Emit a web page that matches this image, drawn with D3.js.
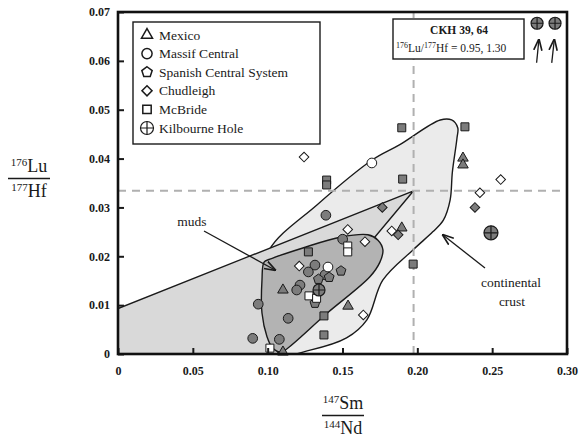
<!DOCTYPE html>
<html>
<head>
<meta charset="utf-8">
<script src="https://cdn.jsdelivr.net/npm/d3@7"></script>
<style>
  body { margin: 0; background: #fff; }
  text { font-family: "Liberation Serif", "DejaVu Serif", serif; fill: #1a1a1a; }
</style>
</head>
<body>
<svg id="chart" width="580" height="438"></svg>
<script>
// axis ticks
const xTicks = [0, 0.05, 0.1, 0.15, 0.2, 0.25, 0.3];
const yTicks = [0, 0.01, 0.02, 0.03, 0.04, 0.05, 0.06, 0.07];

// chondritic reference (dashed lines)
const chur = [0.1975, 0.0334];

// outlined fields
const crustField = [
  [0.1102, 0], [0.1284, 0.0008], [0.1527, 0.0033], [0.1663, 0.007], [0.1769, 0.0151],
  [0.1971, 0.0213], [0.2103, 0.025], [0.2174, 0.0274], [0.2219, 0.0315], [0.2234, 0.0372],
  [0.2265, 0.0442], [0.227, 0.0463], [0.2229, 0.0479], [0.2153, 0.0479], [0.188, 0.0428],
  [0.1698, 0.0397], [0.1329, 0.0305], [0.1011, 0.0213], [0.096, 0.0131], [0.1001, 0.0049]
];
const wedgeField = [[0, 0], [0, 0.0093], chur, [0.1062, 0]];
const mudsField = [
  [0.0976, 0.0188], [0.0962, 0.0151], [0.0962, 0.0084], [0.0996, 0.0035], [0.1029, 0.0014],
  [0.1083, 0.0004], [0.1116, 0.0008], [0.1395, 0.0083], [0.1683, 0.0158], [0.175, 0.0188],
  [0.177, 0.0213], [0.1737, 0.0233], [0.167, 0.0244], [0.1483, 0.0239], [0.1235, 0.0217],
  [0.1015, 0.0194]
];

// samples [147Sm/144Nd, 176Lu/177Hf]
const mexicoFilled = [[0.2305, 0.0401], [0.2305, 0.0387], [0.1537, 0.0098], [0.1102, 0.0131], [0.1102, 0.0004], [0.1896, 0.0258]];
const massifOpen = [[0.1696, 0.0391], [0.1403, 0.0178]];
const massifFilled = [
  [0.1389, 0.0284], [0.1501, 0.0235], [0.1316, 0.0182], [0.1272, 0.0168], [0.1383, 0.0162],
  [0.1216, 0.0141], [0.1194, 0.0131], [0.0937, 0.0102], [0.1137, 0.0073], [0.09, 0.0032], [0.1078, 0.003]
];
const spanishFilled = [[0.149, 0.017], [0.1411, 0.0157], [0.1339, 0.0153], [0.1316, 0.0104]];
const chudleighOpen = [
  [0.1243, 0.0403], [0.1535, 0.0255], [0.165, 0.023], [0.1211, 0.018], [0.1639, 0.008],
  [0.1829, 0.0252], [0.2418, 0.033], [0.2557, 0.0357]
];
const chudleighFilled = [[0.1766, 0.03], [0.1872, 0.0244], [0.2385, 0.03]];
const mcbrideFilled = [
  [0.1896, 0.0463], [0.2318, 0.0465], [0.1394, 0.0356], [0.1394, 0.0346], [0.1902, 0.0358],
  [0.1272, 0.0209], [0.1376, 0.0078], [0.1376, 0.0039], [0.1972, 0.0184]
];
const mcbrideOpen = [[0.1535, 0.0221], [0.1535, 0.0209], [0.1276, 0.0119], [0.1327, 0.0114], [0.1015, 0.0012]];
const kilbourne = [[0.1343, 0.0131], [0.2492, 0.0248]];
// off-scale samples (Lu/Hf = 0.95, 1.30) drawn at the top edge with arrows
const kilbourneOff = [[0.28, 0.0677], [0.292, 0.0677]];
const kilbourneOffArrows = [[[0.2797, 0.0596], [0.2812, 0.0643]], [[0.2898, 0.0596], [0.2915, 0.0643]]];

const legendItems = ["Mexico", "Massif Central", "Spanish Central System", "Chudleigh", "McBride", "Kilbourne Hole"];

const svg = d3.select("#chart");
const margin = { top: 12, right: 13, bottom: 84, left: 118 };
const width = 580, height = 438;

const x = d3.scaleLinear().domain([0, 0.3]).range([margin.left, width - margin.right]);
const y = d3.scaleLinear().domain([0, 0.07]).range([height - margin.bottom, margin.top]);

const defs = svg.append("defs");
defs.append("clipPath").attr("id", "plot")
  .append("rect")
  .attr("x", x(0)).attr("y", y(0.07))
  .attr("width", x(0.3) - x(0)).attr("height", y(0) - y(0.07));
defs.append("marker").attr("id", "arrow")
  .attr("viewBox", "0 0 10 10").attr("refX", 9).attr("refY", 5)
  .attr("markerWidth", 9).attr("markerHeight", 9).attr("orient", "auto")
  .append("path").attr("d", "M0,1.5 L10,5 L0,8.5").attr("fill", "none")
  .attr("stroke", "#1a1a1a").attr("stroke-width", 1.4);

const plot = svg.append("g").attr("clip-path", "url(#plot)");

const smooth = d3.line().x(d => x(d[0])).y(d => y(d[1])).curve(d3.curveCatmullRomClosed.alpha(0.5));
const straight = d3.line().x(d => x(d[0])).y(d => y(d[1])).curve(d3.curveLinearClosed);

plot.append("path").attr("d", smooth(crustField))
  .attr("fill", "#ebebeb").attr("stroke", "#1a1a1a").attr("stroke-width", 1.4);
plot.append("path").attr("d", straight(wedgeField))
  .attr("fill", "#d9d9d9").attr("stroke", "#1a1a1a").attr("stroke-width", 1.4);
plot.append("path").attr("d", smooth(mudsField))
  .attr("fill", "#b3b3b3").attr("stroke", "#1a1a1a").attr("stroke-width", 1.4);

// dashed reference lines
plot.append("line")
  .attr("x1", x(chur[0])).attr("x2", x(chur[0]))
  .attr("y1", y(0)).attr("y2", y(0.07))
  .attr("stroke", "#b0b0b0").attr("stroke-width", 2).attr("stroke-dasharray", "8,6");
plot.append("line")
  .attr("x1", x(0)).attr("x2", x(0.3))
  .attr("y1", y(chur[1])).attr("y2", y(chur[1]))
  .attr("stroke", "#b0b0b0").attr("stroke-width", 2).attr("stroke-dasharray", "8,6");

// symbols
const pentagon = {
  draw(ctx, size) {
    const r = Math.sqrt(size / 2.378);
    for (let i = 0; i < 5; i++) {
      const a = -Math.PI / 2 + i * 2 * Math.PI / 5;
      if (i === 0) ctx.moveTo(r * Math.cos(a), r * Math.sin(a));
      else ctx.lineTo(r * Math.cos(a), r * Math.sin(a));
    }
    ctx.closePath();
  }
};
const shapes = {
  triangle: { type: d3.symbolTriangle, size: 48, rot: 0 },
  circle: { type: d3.symbolCircle, size: 74, rot: 0 },
  pentagon: { type: pentagon, size: 64, rot: 0 },
  diamond: { type: d3.symbolSquare, size: 46, rot: 45 },
  square: { type: d3.symbolSquare, size: 64, rot: 0 }
};
const filledColor = "#7c7c7c";

function drawSymbols(g, data, shape, fill) {
  const s = shapes[shape];
  g.selectAll(null).data(data).enter().append("path")
    .attr("d", d3.symbol().type(s.type).size(s.size))
    .attr("transform", d => `translate(${x(d[0])},${y(d[1])}) rotate(${s.rot})`)
    .attr("fill", fill).attr("stroke", "#1a1a1a").attr("stroke-width", 1);
}

function drawCrossed(g, cx, cy, r, fill) {
  g.append("circle").attr("cx", cx).attr("cy", cy).attr("r", r)
    .attr("fill", fill).attr("stroke", "#1a1a1a").attr("stroke-width", 1.2);
  g.append("path")
    .attr("d", `M${cx - r},${cy}H${cx + r}M${cx},${cy - r}V${cy + r}`)
    .attr("stroke", "#1a1a1a").attr("stroke-width", 1.2);
}

const pts = svg.append("g");
drawSymbols(pts, mcbrideFilled, "square", filledColor);
drawSymbols(pts, massifFilled, "circle", filledColor);
drawSymbols(pts, mexicoFilled, "triangle", filledColor);
drawSymbols(pts, spanishFilled, "pentagon", filledColor);
drawSymbols(pts, chudleighFilled, "diamond", filledColor);
drawSymbols(pts, chudleighOpen, "diamond", "#fff");
drawSymbols(pts, massifOpen, "circle", "#fff");
drawSymbols(pts, mcbrideOpen, "square", "#fff");
kilbourne.forEach((d, i) => drawCrossed(pts, x(d[0]), y(d[1]), i === 0 ? 6 : 7, filledColor));

// annotations
const note = svg.append("g").attr("font-size", 13.5);
note.append("text").attr("x", 192).attr("y", 226).attr("text-anchor", "middle").text("muds");
note.append("line").attr("x1", 204).attr("y1", 231).attr("x2", 275).attr("y2", 270)
  .attr("stroke", "#1a1a1a").attr("stroke-width", 1.3).attr("marker-end", "url(#arrow)");
note.append("text").attr("x", 511).attr("y", 287).attr("text-anchor", "middle").text("continental");
note.append("text").attr("x", 512).attr("y", 306).attr("text-anchor", "middle").text("crust");
note.append("line").attr("x1", 485).attr("y1", 268).attr("x2", 443).attr("y2", 235)
  .attr("stroke", "#1a1a1a").attr("stroke-width", 1.3).attr("marker-end", "url(#arrow)");

// inset box
const inset = svg.append("g");
inset.append("rect").attr("x", 393).attr("y", 19).attr("width", 131).attr("height", 40)
  .attr("fill", "#fff").attr("stroke", "#1a1a1a").attr("stroke-width", 1.4);
inset.append("text").attr("x", 459).attr("y", 34).attr("text-anchor", "middle")
  .attr("font-size", 11.5).attr("font-weight", "bold").text("CKH 39, 64");
const insetLine = inset.append("text").attr("x", 396).attr("y", 52).attr("font-size", 11.5);
insetLine.append("tspan").attr("font-size", 8).attr("dy", -4).text("176");
insetLine.append("tspan").attr("dy", 4).text("Lu/");
insetLine.append("tspan").attr("font-size", 8).attr("dy", -4).text("177");
insetLine.append("tspan").attr("dy", 4).text("Hf = 0.95, 1.30");

kilbourneOff.forEach(d => drawCrossed(svg, x(d[0]), y(d[1]), 6, filledColor));
kilbourneOffArrows.forEach(a => {
  svg.append("line")
    .attr("x1", x(a[0][0])).attr("y1", y(a[0][1]))
    .attr("x2", x(a[1][0])).attr("y2", y(a[1][1]))
    .attr("stroke", "#1a1a1a").attr("stroke-width", 1.3).attr("marker-end", "url(#arrow)");
});

// legend
const legend = svg.append("g");
legend.append("rect").attr("x", 133).attr("y", 22).attr("width", 187).attr("height", 122)
  .attr("fill", "#fff").attr("stroke", "#1a1a1a").attr("stroke-width", 1.4);
const legendShapes = ["triangle", "circle", "pentagon", "diamond", "square"];
legendItems.forEach((name, i) => {
  const ly = 35 + i * 18.6;
  if (i < 5) {
    const s = shapes[legendShapes[i]];
    legend.append("path")
      .attr("d", d3.symbol().type(s.type).size(s.size * 1.1))
      .attr("transform", `translate(147,${ly}) rotate(${s.rot})`)
      .attr("fill", "#fff").attr("stroke", "#1a1a1a").attr("stroke-width", 1.5);
  } else {
    drawCrossed(legend, 147, ly, 6.5, "#fff");
  }
  legend.append("text").attr("x", 159).attr("y", ly + 4.5).attr("font-size", 13.5).text(name);
});

// axes with inward ticks
const fmt = d => d === 0 ? "0" : d3.format(".2f")(d);
svg.append("g").attr("transform", `translate(0,${y(0)})`)
  .call(d3.axisBottom(x).tickValues(xTicks).tickSize(-6).tickPadding(12).tickFormat(fmt))
  .call(g => g.select(".domain").remove())
  .call(g => g.selectAll("line").attr("stroke", "#1a1a1a").attr("stroke-width", 2))
  .call(g => g.selectAll("text").attr("font-family", "Liberation Serif").attr("font-size", 12)
    .attr("font-weight", "bold").attr("fill", "#1a1a1a"));
svg.append("g").attr("transform", `translate(${x(0)},0)`)
  .call(d3.axisLeft(y).tickValues(yTicks).tickSize(-6).tickPadding(8).tickFormat(fmt))
  .call(g => g.select(".domain").remove())
  .call(g => g.selectAll("line").attr("stroke", "#1a1a1a").attr("stroke-width", 2))
  .call(g => g.selectAll("text").attr("font-family", "Liberation Serif").attr("font-size", 12)
    .attr("font-weight", "bold").attr("fill", "#1a1a1a"));

// frame
svg.append("rect")
  .attr("x", x(0)).attr("y", y(0.07))
  .attr("width", x(0.3) - x(0)).attr("height", y(0) - y(0.07))
  .attr("fill", "none").attr("stroke", "#111").attr("stroke-width", 2.6);

// axis titles as fractions
function fraction(cx, top, numSup, numMain, denSup, denMain) {
  const g = svg.append("g");
  const n = g.append("text").attr("x", cx).attr("y", top).attr("text-anchor", "middle").attr("font-size", 18);
  n.append("tspan").attr("font-size", 11).attr("dy", -6).text(numSup);
  n.append("tspan").attr("dy", 6).text(numMain);
  const d = g.append("text").attr("x", cx).attr("y", top + 25).attr("text-anchor", "middle").attr("font-size", 18);
  d.append("tspan").attr("font-size", 11).attr("dy", -6).text(denSup);
  d.append("tspan").attr("dy", 6).text(denMain);
  g.append("line").attr("x1", cx - 21).attr("x2", cx + 21)
    .attr("y1", top + 6.5).attr("y2", top + 6.5)
    .attr("stroke", "#1a1a1a").attr("stroke-width", 1.6);
}
fraction(29, 172, "176", "Lu", "177", "Hf");
fraction(343, 409, "147", "Sm", "144", "Nd");
</script>
</body>
</html>
